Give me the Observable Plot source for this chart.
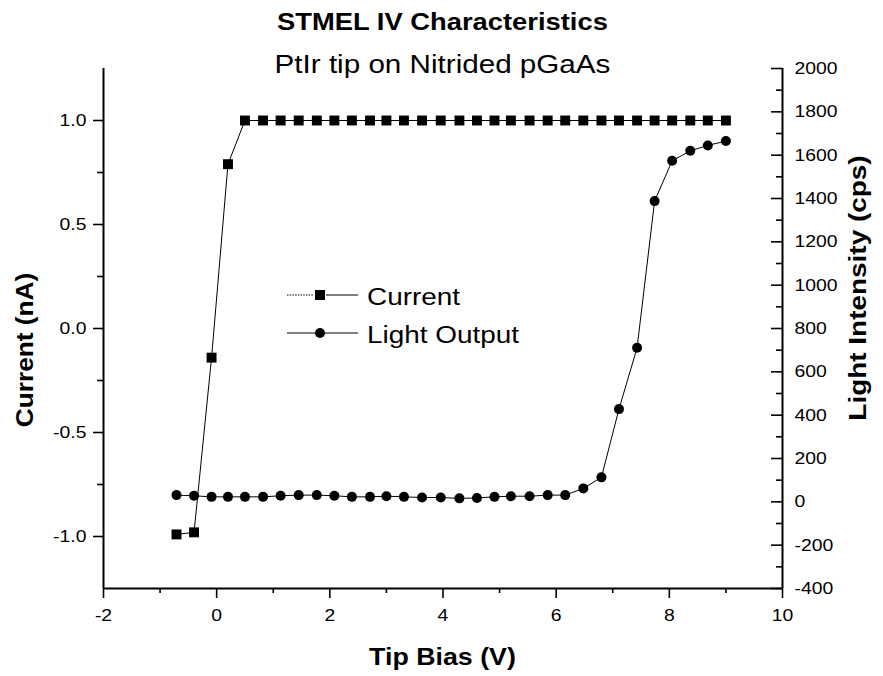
<!DOCTYPE html>
<html><head><meta charset="utf-8">
<script src="https://cdn.jsdelivr.net/npm/d3@7"></script>
<script src="https://cdn.jsdelivr.net/npm/@observablehq/plot@0.6"></script>
<style>html,body{margin:0;padding:0;background:#fff;} #chart{width:883px;height:676px;}</style>
</head><body><div id="chart"></div>
<script>
// ---- data ----
const bias = [-0.71, -0.40, -0.09, 0.20, 0.50, 0.82, 1.13, 1.45, 1.77, 2.08, 2.39, 2.71, 3.00, 3.31, 3.63, 3.96,
              4.29, 4.60, 4.91, 5.20, 5.53, 5.85, 6.16, 6.48, 6.80, 7.11, 7.43, 7.74, 8.05, 8.37, 8.68, 9.00];
const current = [-0.99, -0.98, -0.14, 0.79, 1.0, 1.0, 1.0, 1.0, 1.0, 1.0, 1.0, 1.0, 1.0, 1.0, 1.0, 1.0,
                 1.0, 1.0, 1.0, 1.0, 1.0, 1.0, 1.0, 1.0, 1.0, 1.0, 1.0, 1.0, 1.0, 1.0, 1.0, 1.0];
const light = [31, 28, 23, 23, 23, 23, 28, 31, 31, 28, 23, 23, 26, 23, 20, 20,
               16, 18, 23, 26, 26, 31, 31, 62, 113, 428, 711, 1388, 1574, 1620, 1645, 1665];

const xDomain = [-2, 10];
const yDomain = [-1.25, 1.25];
const lightDomain = [-400, 2000];
const xTicks = [-2, 0, 2, 4, 6, 8, 10];
const xMinor = [-1, 1, 3, 5, 7, 9];
const yTicks = [-1, -0.5, 0, 0.5, 1];
const yMinor = [-0.75, -0.25, 0.25, 0.75];
const lightTicks = [-400, -200, 0, 200, 400, 600, 800, 1000, 1200, 1400, 1600, 1800, 2000];
const lightMinor = [-300, -100, 100, 300, 500, 700, 900, 1100, 1300, 1500, 1700, 1900];

const title = "STMEL IV Characteristics";
const subtitle = "PtIr tip on Nitrided pGaAs";
const xLabel = "Tip Bias (V)";
const yLabel = "Current (nA)";
const y2Label = "Light Intensity (cps)";
const seriesNames = ["Current", "Light Output"];

// ---- helpers ----
const toLeft = v => yDomain[0] + (v - lightDomain[0]) / (lightDomain[1] - lightDomain[0]) * (yDomain[1] - yDomain[0]);
const fromLeft = y => lightDomain[0] + (y - yDomain[0]) / (yDomain[1] - yDomain[0]) * (lightDomain[1] - lightDomain[0]);

const data = bias.map((b, i) => ({bias: b, current: current[i], light: light[i], lightY: toLeft(light[i])}));

const W = 883, H = 676, mL = 103, mR = 101, mT = 68, mB = 88;
const innerW = W - mL - mR;
const tickFont = 17;
const sw = 1.6;

const plot = Plot.plot({
  width: W, height: H,
  marginLeft: mL, marginRight: mR, marginTop: mT, marginBottom: mB,
  style: {fontFamily: "'Liberation Sans', Arial, sans-serif", background: "#fff", color: "#000", overflow: "visible"},
  x: {domain: xDomain, axis: null},
  y: {domain: yDomain, axis: null},
  marks: [
    Plot.axisX({ticks: xTicks, tickSize: 10, tickPadding: 10, fontSize: tickFont, label: null, tickFormat: d => String(d), strokeWidth: sw}),
    Plot.axisX({ticks: xMinor, tickSize: 5, tickFormat: () => "", label: null, strokeWidth: sw}),
    Plot.axisY({ticks: yTicks, tickSize: 10, tickPadding: 7, fontSize: tickFont, label: null, tickFormat: d => d.toFixed(1), strokeWidth: sw}),
    Plot.axisY({ticks: yMinor, tickSize: 6, tickFormat: () => "", label: null, strokeWidth: sw}),
    Plot.axisY({anchor: "left", ticks: lightTicks.map(toLeft), tickSize: 11, tickFormat: () => "", label: null, dx: innerW, strokeWidth: sw}),
    Plot.axisY({anchor: "left", ticks: lightMinor.map(toLeft), tickSize: 6, tickFormat: () => "", label: null, dx: innerW, strokeWidth: sw}),
    Plot.axisY({anchor: "right", ticks: lightTicks.map(toLeft), tickSize: 0, tickPadding: 12, fontSize: tickFont, label: null,
                tickFormat: d => String(Math.round(fromLeft(d)))}),
    Plot.ruleX(xDomain, {strokeWidth: 2}),
    Plot.ruleY([yDomain[0]], {strokeWidth: 2}),
    Plot.line(data, {x: "bias", y: "current", stroke: "black", strokeWidth: 1}),
    Plot.line(data, {x: "bias", y: "lightY", stroke: "black", strokeWidth: 1}),
    Plot.dot(data, {x: "bias", y: "current", symbol: "square", r: 5.6, fill: "black", stroke: "none"}),
    Plot.dot(data, {x: "bias", y: "lightY", symbol: "circle", r: 5, fill: "black", stroke: "none"})
  ]
});

const svg = d3.select(plot);
const cx = mL + innerW / 2;

// titles and axis labels
svg.append("text").attr("x", cx).attr("y", 30).attr("text-anchor", "middle")
  .attr("font-size", 24).attr("font-weight", "bold").text(title);
svg.append("text").attr("x", cx).attr("y", 73).attr("text-anchor", "middle")
  .attr("font-size", 26).text(subtitle);
svg.append("text").attr("x", cx).attr("y", 665).attr("text-anchor", "middle")
  .attr("font-size", 23.5).attr("font-weight", "bold").text(xLabel);
svg.append("text").attr("transform", "translate(33,350) rotate(-90)").attr("text-anchor", "middle")
  .attr("font-size", 23).attr("font-weight", "bold").text(yLabel);
svg.append("text").attr("transform", "translate(866,288) rotate(-90)").attr("text-anchor", "middle")
  .attr("font-size", 24.5).attr("font-weight", "bold").text(y2Label);

// legend
const lg = svg.append("g").attr("stroke", "black").attr("stroke-width", 1);
lg.append("line").attr("x1", 287).attr("x2", 314).attr("y1", 295).attr("y2", 295).attr("stroke-dasharray", "1.5,1.2");
lg.append("line").attr("x1", 326).attr("x2", 358).attr("y1", 295).attr("y2", 295);
lg.append("rect").attr("x", 315).attr("y", 290).attr("width", 10).attr("height", 10).attr("fill", "black").attr("stroke", "none");
lg.append("line").attr("x1", 287).attr("x2", 358).attr("y1", 333).attr("y2", 333);
lg.append("circle").attr("cx", 320).attr("cy", 333).attr("r", 5).attr("fill", "black").attr("stroke", "none");
svg.append("text").attr("x", 367).attr("y", 305).attr("text-anchor", "start").attr("font-size", 24.5).text(seriesNames[0]);
svg.append("text").attr("x", 367).attr("y", 343).attr("text-anchor", "start").attr("font-size", 24.5).text(seriesNames[1]);

// the reference typeface is wider than Arial: stretch every text along its own baseline
const K = 1.14;
svg.selectAll("text").each(function () {
  const t = this.getAttribute("transform") || "";
  const xs = this.getAttribute("x");
  if (xs !== null && /^-?[\d.]+$/.test(xs.trim())) this.setAttribute("x", (+xs) / K);
  this.setAttribute("transform", `${t} scale(${K},1)`.trim());
});

document.getElementById("chart").appendChild(plot);
</script>
</body></html>
